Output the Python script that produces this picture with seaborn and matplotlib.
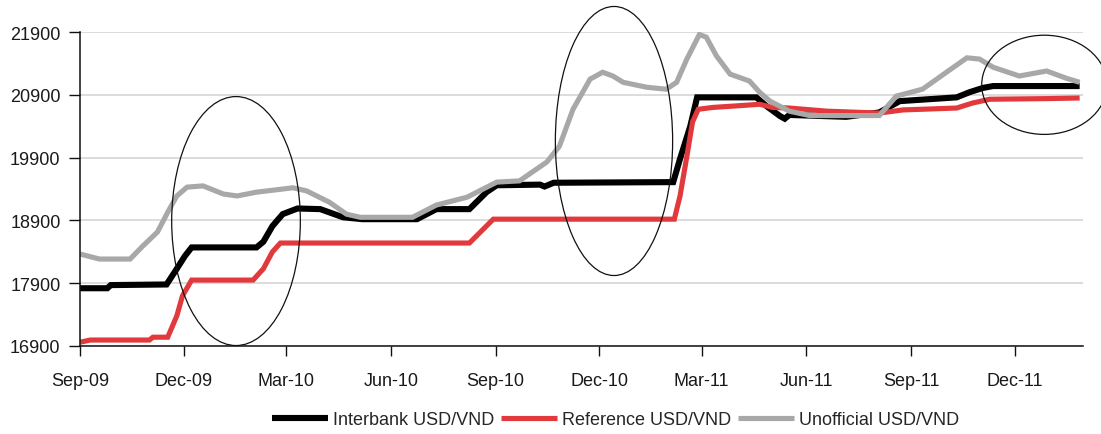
import numpy as np
import pandas as pd
import matplotlib
matplotlib.use("Agg")
import matplotlib.pyplot as plt
import matplotlib.dates as mdates
from matplotlib.patches import Ellipse
import seaborn as sns

# ---- data: USD/VND exchange rates ----
interbank_dates = [
    "2009-09-01", "2009-09-25", "2009-09-28", "2009-11-16", "2009-11-25", "2009-12-02",
    "2009-12-08", "2010-02-03", "2010-02-09", "2010-02-17", "2010-02-26", "2010-03-11",
    "2010-03-31", "2010-04-20", "2010-05-07", "2010-06-24", "2010-07-11", "2010-08-09",
    "2010-08-24", "2010-09-02", "2010-10-10", "2010-10-14", "2010-10-22", "2011-02-04",
    "2011-02-10", "2011-02-19", "2011-02-25", "2011-04-18", "2011-04-27", "2011-05-09",
    "2011-05-13", "2011-05-17", "2011-07-06", "2011-08-04", "2011-08-22", "2011-10-11",
    "2011-10-22", "2011-11-03", "2011-11-12", "2012-01-27",
]
interbank_vals = [
    17820, 17820, 17870, 17880, 18130, 18330,
    18470, 18470, 18560, 18810, 19000, 19090,
    19080, 18950, 18920, 18920, 19080, 19080,
    19350, 19460, 19470, 19440, 19500, 19510,
    19880, 20400, 20860, 20860, 20720, 20560,
    20520, 20580, 20550, 20620, 20800, 20860,
    20940, 21010, 21040, 21040,
]

reference_dates = [
    "2009-09-01", "2009-09-10", "2009-11-01", "2009-11-04", "2009-11-17", "2009-11-25",
    "2009-11-30", "2009-12-08", "2010-01-31", "2010-02-09", "2010-02-17", "2010-02-24",
    "2010-08-09", "2010-08-30", "2011-02-05", "2011-02-10", "2011-02-16", "2011-02-21",
    "2011-02-26", "2011-03-11", "2011-03-28", "2011-04-21", "2011-05-02", "2011-05-17",
    "2011-06-19", "2011-08-04", "2011-08-25", "2011-10-11", "2011-10-25", "2011-11-09",
    "2011-12-29", "2012-01-27",
]
reference_vals = [
    16960, 16995, 16995, 17040, 17040, 17380,
    17700, 17950, 17950, 18130, 18400, 18540,
    18540, 18920, 18920, 19290, 19920, 20470,
    20670, 20700, 20720, 20750, 20700, 20690,
    20640, 20610, 20660, 20690, 20770, 20830,
    20840, 20850,
]

unofficial_dates = [
    "2009-09-01", "2009-09-18", "2009-10-15", "2009-10-26", "2009-11-08", "2009-11-17",
    "2009-11-25", "2009-12-04", "2009-12-18", "2010-01-05", "2010-01-17", "2010-02-03",
    "2010-02-26", "2010-03-07", "2010-03-19", "2010-04-08", "2010-04-23", "2010-05-05",
    "2010-06-20", "2010-07-11", "2010-08-07", "2010-08-21", "2010-09-02", "2010-09-22",
    "2010-10-16", "2010-10-27", "2010-11-08", "2010-11-23", "2010-12-04", "2010-12-13",
    "2010-12-22", "2011-01-12", "2011-01-29", "2011-02-07", "2011-02-16", "2011-02-27",
    "2011-03-05", "2011-03-14", "2011-03-26", "2011-04-12", "2011-04-21", "2011-04-30",
    "2011-05-17", "2011-06-04", "2011-08-04", "2011-08-19", "2011-09-11", "2011-10-02",
    "2011-10-20", "2011-10-31", "2011-11-12", "2011-12-05", "2011-12-29", "2012-01-16",
    "2012-01-27",
]
unofficial_vals = [
    18365, 18285, 18285, 18490, 18715, 19030,
    19290, 19430, 19450, 19320, 19290, 19350,
    19400, 19420, 19370, 19190, 19000, 18950,
    18950, 19145, 19270, 19400, 19510, 19530,
    19830, 20080, 20670, 21150, 21260, 21200,
    21100, 21020, 20990, 21100, 21470, 21860,
    21820, 21520, 21230, 21120, 20940, 20800,
    20640, 20570, 20570, 20880, 20990, 21260,
    21490, 21470, 21340, 21200, 21280, 21160,
    21100,
]

series_names = ["Interbank USD/VND", "Reference USD/VND", "Unofficial USD/VND"]
series_colors = ["#000000", "#e2393d", "#a8a8a8"]
series_widths = [4.4, 3.7, 3.7]

y_ticks = [16900, 17900, 18900, 19900, 20900, 21900]

frames = []
for name, d, v in zip(series_names,
                      [interbank_dates, reference_dates, unofficial_dates],
                      [interbank_vals, reference_vals, unofficial_vals]):
    frames.append(pd.DataFrame({"date": pd.to_datetime(d), "rate": v, "series": name}))
df = pd.concat(frames, ignore_index=True)

# ---- figure ----
sns.set_theme(style="white")
plt.rcParams["font.family"] = ["Liberation Sans", "DejaVu Sans"]

fig = plt.figure(figsize=(11.01, 4.35), dpi=100)
ax = fig.add_axes([0.0727, 0.2023, 0.9110, 0.7217])

handles = []
for name, color, lw in zip(series_names, series_colors, series_widths):
    sub = df[df["series"] == name]
    sns.lineplot(data=sub, x="date", y="rate", ax=ax, color=color, linewidth=lw,
                 estimator=None, sort=True, legend=False,
                 solid_joinstyle="miter", solid_capstyle="butt")
    handles.append(ax.get_lines()[-1])

ax.set_xlim(pd.Timestamp("2009-09-01"), pd.Timestamp("2012-01-30"))
ax.set_ylim(16900, 21900)
ax.set_yticks(y_ticks)
ax.set_xlabel("")
ax.set_ylabel("")

ax.xaxis.set_major_locator(mdates.MonthLocator(bymonth=[3, 6, 9, 12]))
ax.xaxis.set_major_formatter(mdates.DateFormatter("%b-%y"))

ax.yaxis.grid(True, color="#d2d2d2", linewidth=1.1)
ax.xaxis.grid(False)
ax.set_axisbelow(True)

for side in ["top", "right"]:
    ax.spines[side].set_visible(False)
for side in ["left", "bottom"]:
    ax.spines[side].set_color("#111111")
    ax.spines[side].set_linewidth(1.1)

ax.tick_params(axis="y", which="major", direction="out", length=8, width=1.0,
               color="#111111", pad=6, labelsize=13, labelcolor="#1a1a1a", left=True)
ax.tick_params(axis="x", which="major", direction="out", length=7, width=1.0,
               color="#111111", pad=12, labelsize=13, labelcolor="#1a1a1a", bottom=True)

# highlighted periods
highlights = [
    ("2010-01-16", 18890, 113, 3965),
    ("2010-12-14", 20165, 103, 4285),
    ("2011-12-27", 21060, 110, 1580),
]
for center, yc, w_days, h in highlights:
    e = Ellipse((mdates.date2num(pd.Timestamp(center)), yc), width=w_days, height=h,
                fill=False, edgecolor="#111111", linewidth=0.9, clip_on=False, zorder=5)
    ax.add_patch(e)

fig.legend(handles, series_names, loc="center", bbox_to_anchor=(0.559, 0.033),
           ncol=3, frameon=False, fontsize=13, handlelength=3.1, handletextpad=0.3,
           columnspacing=0.35, borderaxespad=0)

fig.savefig("out.png", dpi=100, facecolor="white")
